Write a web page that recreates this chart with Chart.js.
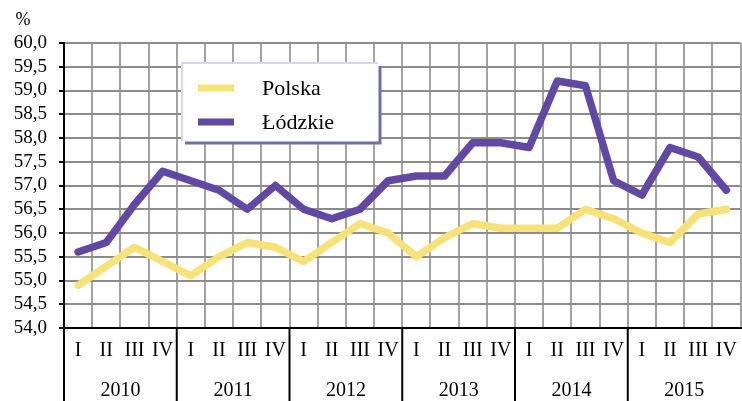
<!DOCTYPE html>
<html>
<head>
<meta charset="utf-8">
<script src="https://cdn.jsdelivr.net/npm/chart.js@4/dist/chart.umd.min.js"></script>
<style>
    body { margin: 0; overflow: hidden; background: #fff; }
    #wrap { width: 748px; height: 401px; }
</style>
</head>
<body>
<div id="wrap"><canvas id="activity_chart" width="748" height="401"></canvas></div>
<script>
var years = ["2010", "2011", "2012", "2013", "2014", "2015"];
var quarters = ["I", "II", "III", "IV"];
var polska = [54.9, 55.3, 55.7, 55.4, 55.1, 55.5, 55.8, 55.7, 55.4, 55.8, 56.2, 56.0,
              55.5, 55.9, 56.2, 56.1, 56.1, 56.1, 56.5, 56.3, 56.0, 55.8, 56.4, 56.5];
var lodzkie = [55.6, 55.8, 56.6, 57.3, 57.1, 56.9, 56.5, 57.0, 56.5, 56.3, 56.5, 57.1,
               57.2, 57.2, 57.9, 57.9, 57.8, 59.2, 59.1, 57.1, 56.8, 57.8, 57.6, 56.9];
var yMin = 54, yMax = 60, yStep = 0.5;

var labels = [];
years.forEach(function(y) {
    quarters.forEach(function(q) { labels.push(q); });
});

var serif = "'Liberation Serif', 'Times New Roman', serif";

// legend box drawn inside the plot, like the original
var boxLegend = {
    id: 'boxLegend',
    afterDatasetsDraw: function(chart) {
        var ctx = chart.ctx;
        var x = 182, y = 63, w = 198, h = 80;
        ctx.save();
        ctx.fillStyle = '#fff';
        ctx.fillRect(x, y, w, h);
        ctx.lineWidth = 3;
        ctx.strokeStyle = '#6f6fa8';
        ctx.beginPath();
        ctx.moveTo(x + 3, y + h);
        ctx.lineTo(x + w, y + h);
        ctx.lineTo(x + w, y + 3);
        ctx.stroke();
        ctx.lineWidth = 2;
        ctx.strokeStyle = '#d6d6f2';
        ctx.beginPath();
        ctx.moveTo(x, y + h - 2);
        ctx.lineTo(x, y);
        ctx.lineTo(x + w - 2, y);
        ctx.stroke();
        chart.data.datasets.forEach(function(ds, i) {
            var ly = 88 + i * 34;
            ctx.strokeStyle = ds.borderColor;
            ctx.lineWidth = 7;
            ctx.lineCap = 'butt';
            ctx.beginPath();
            ctx.moveTo(198, ly);
            ctx.lineTo(234, ly);
            ctx.stroke();
            ctx.fillStyle = '#000';
            ctx.font = '22px ' + serif;
            ctx.textBaseline = 'middle';
            ctx.fillText(ds.label, 262, ly + 1);
        });
        ctx.restore();
    },
    afterDraw: function(chart) {
        var ctx = chart.ctx;
        var xs = chart.scales.x;
        var area = chart.chartArea;
        ctx.save();
        ctx.strokeStyle = '#000';
        ctx.lineWidth = 2;
        for (var k = 0; k < years.length; k++) {
            var bx = k === 0 ? area.left
                : (xs.getPixelForValue(4 * k - 1) + xs.getPixelForValue(4 * k)) / 2;
            ctx.beginPath();
            ctx.moveTo(bx, area.bottom);
            ctx.lineTo(bx, chart.height);
            ctx.stroke();
        }
        ctx.fillStyle = '#000';
        ctx.font = '18px ' + serif;
        ctx.textAlign = 'center';
        ctx.textBaseline = 'middle';
        ctx.fillText('%', 23, 20);
        ctx.restore();
    }
};

new Chart(document.getElementById("activity_chart"), {
    "type": "line",
    "data": {
        "labels": labels,
        "datasets": [
            {"label": "Polska", "data": polska, "borderColor": "#f6e277", "borderWidth": 7.5,
             "pointRadius": 0, "fill": false, "borderCapStyle": "round", "borderJoinStyle": "round", "tension": 0},
            {"label": "Łódzkie", "data": lodzkie, "borderColor": "#6148a4", "borderWidth": 7.5,
             "pointRadius": 0, "fill": false, "borderCapStyle": "round", "borderJoinStyle": "round", "tension": 0}
        ]
    },
    "options": {
        "responsive": false,
        "animation": false,
        "layout": {"padding": {"top": 43, "left": 0, "right": 2, "bottom": 0}},
        "plugins": {"legend": {"display": false}, "tooltip": {"enabled": false}},
        "scales": {
            "x": {
                "position": "bottom",
                "offset": true,
                "grid": {"offset": true, "color": "#a3a3a3", "lineWidth": 2, "drawTicks": false},
                "border": {"color": "#000", "width": 2},
                "ticks": {"color": "#000", "font": {"family": serif, "size": 20}, "padding": 11,
                          "maxRotation": 0, "autoSkip": false},
                "afterFit": function(s) { s.height = 37; }
            },
            "x2": {
                "type": "category",
                "position": "bottom",
                "labels": years,
                "offset": true,
                "grid": {"display": false},
                "border": {"display": false},
                "ticks": {"color": "#000", "font": {"family": serif, "size": 20}, "padding": 6,
                          "maxRotation": 0},
                "afterFit": function(s) { s.height = 36; }
            },
            "y": {
                "min": yMin,
                "max": yMax,
                "ticks": {"stepSize": yStep, "autoSkip": false, "color": "#000",
                          "font": {"family": serif, "size": 19}, "padding": 12,
                          "callback": function(v) { return v.toFixed(1).replace('.', ','); }},
                "grid": {"color": "#8c8c8c", "lineWidth": 2, "tickColor": "#000", "tickLength": 5},
                "border": {"color": "#000", "width": 2},
                "afterFit": function(s) { s.width = 64; }
            }
        }
    },
    "plugins": [boxLegend]
});
</script>
</body>
</html>
